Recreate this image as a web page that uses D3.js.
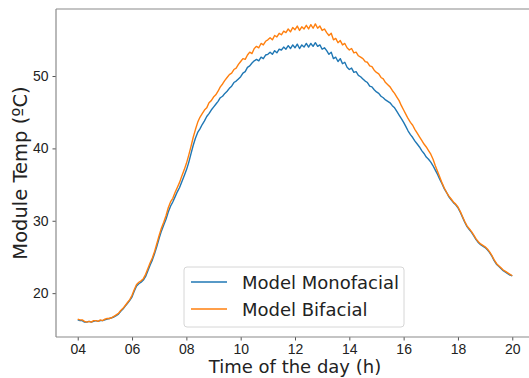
<!DOCTYPE html>
<html lang="en">
<head>
<meta charset="UTF-8">
<title>Module Temperature</title>
<style>
    body { margin: 0; background: #fff; }
    svg { display: block; font-family: "DejaVu Sans", sans-serif; }
    .tick text { fill: #222; font-size: 14px; }
    .axis-label { fill: #222; font-size: 18px; }
    .legend-text { fill: #222; font-size: 18px; }
</style>
</head>
<body>
<div id="chart"></div>
<script src="https://d3js.org/d3.v7.min.js"></script>
<script>
// readings every 5 minutes from 04:00 to 20:00
const startHour = 4;
const stepMinutes = 5;

const monofacial = [
    16.3, 16.2, 16.2, 16.0, 16.0, 16.1,
    16.0, 16.1, 16.2, 16.1, 16.2, 16.2,
    16.3, 16.4, 16.5, 16.6, 16.7, 16.9,
    17.1, 17.5, 17.8, 18.2, 18.6, 19.0,
    19.5, 20.3, 21.0, 21.3, 21.5, 21.8,
    22.3, 23.1, 23.9, 24.6, 25.5, 26.5,
    27.6, 28.6, 29.4, 30.2, 31.2, 32.0,
    32.6, 33.3, 34.0, 34.6, 35.4, 36.2,
    37.0, 38.0, 39.2, 40.4, 41.4, 42.2,
    42.7, 43.3, 43.8, 44.4, 44.8, 45.3,
    45.7, 46.1, 46.5, 47.0, 47.2, 47.6,
    47.9, 48.3, 48.6, 49.1, 49.3, 49.6,
    49.9, 50.4, 50.6, 51.2, 51.4, 51.8,
    52.1, 52.3, 52.1, 52.6, 52.4, 52.9,
    53.0, 53.3, 53.0, 53.5, 53.2, 53.7,
    53.6, 54.0, 53.7, 54.2, 53.8, 54.3,
    53.9, 54.4, 53.8, 54.3, 54.0, 54.5,
    54.0, 54.5, 54.1, 54.6, 54.1, 54.3,
    53.7, 53.9, 53.5, 53.0, 53.3, 52.4,
    52.6, 52.0, 52.4, 51.7, 51.9, 51.2,
    50.9, 51.1, 50.5, 50.6, 50.1, 49.9,
    49.6, 49.3, 49.1, 48.6, 48.5, 48.1,
    47.8, 47.6, 47.2, 47.0, 46.7, 46.5,
    46.3, 45.9, 45.6, 45.1, 44.6, 44.1,
    43.6, 43.0, 42.4, 41.9, 41.5, 41.0,
    40.6, 40.2, 39.7, 39.3, 38.8, 38.5,
    38.1, 37.6, 37.0, 36.4, 35.7, 35.1,
    34.4, 33.9, 33.3, 32.9, 32.5, 32.2,
    31.8, 31.2, 30.5, 29.8, 29.2, 28.8,
    28.4, 27.9, 27.4, 27.0, 26.7, 26.5,
    26.3, 26.0, 25.6, 25.1, 24.5, 24.0,
    23.7, 23.4, 23.1, 22.9, 22.7, 22.5,
    22.4
];

const bifacial = [
    16.4, 16.3, 16.3, 16.1, 16.0, 16.1,
    16.0, 16.2, 16.2, 16.1, 16.3, 16.2,
    16.4, 16.5, 16.5, 16.6, 16.8, 17.0,
    17.2, 17.6, 17.9, 18.3, 18.7, 19.1,
    19.7, 20.5, 21.2, 21.5, 21.7, 22.0,
    22.6, 23.4, 24.2, 24.9, 25.8, 26.9,
    28.0, 29.0, 29.8, 30.7, 31.8, 32.6,
    33.1, 33.9, 34.6, 35.3, 36.2, 37.0,
    37.9, 39.0, 40.2, 41.5, 42.6, 43.6,
    44.3, 44.8, 45.3, 45.6, 46.3, 46.6,
    47.1, 47.4, 47.9, 48.5, 48.9, 49.4,
    49.8, 50.2, 50.4, 50.9, 51.1, 51.6,
    52.0, 52.4, 52.3, 52.9, 53.3, 53.1,
    53.8, 54.1, 53.9, 54.5, 54.3, 54.8,
    55.0, 55.3, 55.0, 55.6, 55.4, 55.9,
    55.7, 56.2, 56.0, 56.5, 56.1, 56.7,
    56.4, 56.9, 56.3, 56.8, 56.5, 57.0,
    56.5, 57.1, 56.6, 57.2, 56.6, 56.9,
    56.3, 56.5, 56.0, 55.6, 55.9, 55.0,
    55.2, 54.6, 54.9, 54.3, 54.5, 53.9,
    53.6, 53.8, 53.2, 53.3, 52.8, 52.6,
    52.4, 52.0, 51.9, 51.4, 51.3, 50.8,
    50.5, 50.3, 49.8, 49.6, 49.1, 48.8,
    48.5, 48.0, 47.6, 47.1, 46.6, 45.9,
    45.3, 44.7, 44.1, 43.6, 43.2, 42.6,
    42.1, 41.6, 41.1, 40.6, 40.2, 39.7,
    39.2, 38.5, 37.6, 36.8, 36.0, 35.2,
    34.5, 33.9, 33.4, 33.0, 32.6, 32.3,
    31.9, 31.3, 30.6, 29.9, 29.3, 28.9,
    28.5, 28.0, 27.5, 27.1, 26.8, 26.6,
    26.4, 26.1, 25.7, 25.2, 24.6, 24.1,
    23.8, 23.5, 23.2, 23.0, 22.8, 22.6,
    22.4
];

const xTicks = [4, 6, 8, 10, 12, 14, 16, 18, 20];
const yTicks = [20, 30, 40, 50];

const seriesNames = ['Model Monofacial', 'Model Bifacial'];
const seriesColors = ['#1f77b4', '#ff7f0e'];

const width = 529, height = 378;
const plot = { left: 56, top: 9, bottom: 337, right: 534 };

const svg = d3.select('#chart')
    .append('svg')
    .attr('width', width)
    .attr('height', height);

const x = d3.scaleLinear().domain([3.2, 20.8]).range([plot.left, plot.right]);
const y = d3.scaleLinear().domain([13.94, 59.26]).range([plot.bottom, plot.top]);

const hourOf = i => startHour + i * stepMinutes / 60;

const line = d3.line()
    .x((d, i) => x(hourOf(i)))
    .y(d => y(d));

[monofacial, bifacial].forEach((s, k) => {
    svg.append('path')
        .datum(s)
        .attr('fill', 'none')
        .attr('stroke', seriesColors[k])
        .attr('stroke-width', 1.4)
        .attr('stroke-linejoin', 'round')
        .attr('d', line);
});

// axes
const xAxis = svg.append('g')
    .attr('transform', `translate(0,${plot.bottom})`)
    .call(d3.axisBottom(x).tickValues(xTicks).tickSize(3.5).tickPadding(4)
        .tickFormat(d => String(d).padStart(2, '0')));

const yAxis = svg.append('g')
    .attr('transform', `translate(${plot.left},0)`)
    .call(d3.axisLeft(y).tickValues(yTicks).tickSize(3.5).tickPadding(4));

[xAxis, yAxis].forEach(g => {
    g.select('.domain').remove();
    g.selectAll('.tick line').attr('stroke', '#555');
    g.selectAll('.tick text').attr('fill', '#222');
});

// spines: left, bottom, top (right one is off the picture)
const spine = '#8a8a8a';
svg.append('line').attr('x1', plot.left).attr('x2', plot.left)
    .attr('y1', plot.top).attr('y2', plot.bottom)
    .attr('stroke', spine).attr('stroke-width', 1.2);
svg.append('line').attr('x1', plot.left).attr('x2', width)
    .attr('y1', plot.bottom).attr('y2', plot.bottom)
    .attr('stroke', spine).attr('stroke-width', 1.2);
svg.append('line').attr('x1', plot.left).attr('x2', width)
    .attr('y1', plot.top).attr('y2', plot.top)
    .attr('stroke', spine).attr('stroke-width', 1.2);

// axis labels
svg.append('text')
    .attr('class', 'axis-label')
    .attr('x', x(12))
    .attr('y', 373)
    .attr('text-anchor', 'middle')
    .text('Time of the day (h)');

svg.append('text')
    .attr('class', 'axis-label')
    .style('font-size', '19.5px')
    .attr('transform', `translate(27,${y(36.6)}) rotate(-90)`)
    .attr('text-anchor', 'middle')
    .text('Module Temp (ºC)');

// legend
const legend = svg.append('g').attr('transform', 'translate(184,267)');
legend.append('rect')
    .attr('width', 220)
    .attr('height', 60)
    .attr('rx', 3)
    .attr('fill', '#fff')
    .attr('fill-opacity', 0.8)
    .attr('stroke', '#d6d6d6');

seriesNames.forEach((name, i) => {
    const ly = 15 + i * 27;
    legend.append('line')
        .attr('x1', 7).attr('x2', 43)
        .attr('y1', ly).attr('y2', ly)
        .attr('stroke', seriesColors[i])
        .attr('stroke-width', 1.4);
    legend.append('text')
        .attr('class', 'legend-text')
        .attr('x', 58)
        .attr('y', ly + 6.5)
        .text(name);
});
</script>
</body>
</html>
